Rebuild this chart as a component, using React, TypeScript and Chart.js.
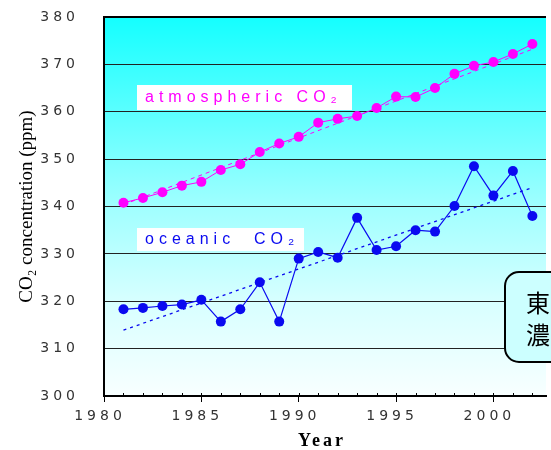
import React, { useEffect, useRef } from "react";
import { Chart, registerables } from "chart.js";

Chart.register(...registerables);

const years = [1981, 1982, 1983, 1984, 1985, 1986, 1987, 1988, 1989, 1990, 1991, 1992, 1993, 1994, 1995, 1996, 1997, 1998, 1999, 2000, 2001, 2002];
const atmosphericCO2 = [340.8, 341.8, 343.0, 344.4, 345.2, 347.7, 348.9, 351.5, 353.3, 354.7, 357.7, 358.5, 359.1, 360.8, 363.2, 363.1, 365.0, 368.0, 369.7, 370.5, 372.2, 374.3];
const oceanicCO2 = [318.3, 318.6, 319.0, 319.3, 320.3, 315.7, 318.3, 324.0, 315.7, 329.0, 330.4, 329.2, 337.6, 330.8, 331.6, 335.0, 334.7, 340.1, 348.5, 342.3, 347.5, 338.0];
const trendYears = [1981, 2002];
const atmosphericTrend = [340.4, 373.2];
const oceanicTrend = [313.9, 344.0];
const yTickValues = [300, 310, 320, 330, 340, 350, 360, 370, 380];
const xTickValues = [1980, 1985, 1990, 1995, 2000];

const MAGENTA = "#ff00ff";
const BLUE = "#0a0af0";
const TICK_SPACING = "4px";

const pts = (xs: number[], ys: number[]) => xs.map((x, i) => ({ x, y: ys[i] }));

const decoPlugin = {
  id: "deco",
  beforeLayout(chart: any) {
    chart.ctx.letterSpacing = TICK_SPACING;
  },
  beforeDraw(chart: any) {
    const { ctx, chartArea: a } = chart;
    ctx.letterSpacing = TICK_SPACING;
    ctx.save();
    const g = ctx.createLinearGradient(0, a.top, 0, a.bottom);
    g.addColorStop(0, "rgb(20,255,255)");
    g.addColorStop(0.25, "rgb(90,255,255)");
    g.addColorStop(0.5, "rgb(160,255,255)");
    g.addColorStop(0.75, "rgb(215,255,255)");
    g.addColorStop(1, "rgb(248,255,255)");
    ctx.fillStyle = g;
    ctx.fillRect(a.left, a.top, a.right - a.left, a.bottom - a.top);
    ctx.restore();
  },
  afterDraw(chart: any) {
    const { ctx, chartArea: a } = chart;
    const xs = chart.scales.x;
    ctx.save();
    ctx.letterSpacing = "0px";
    // top border
    ctx.strokeStyle = "#000";
    ctx.lineWidth = 2;
    ctx.beginPath();
    ctx.moveTo(a.left, a.top);
    ctx.lineTo(a.right, a.top);
    ctx.stroke();
    // minor ticks (inside)
    ctx.lineWidth = 1;
    for (let yr = 1981; yr <= 2002; yr++) {
      const px = Math.round(xs.getPixelForValue(yr)) + 0.5;
      ctx.beginPath();
      ctx.moveTo(px, a.bottom - 3);
      ctx.lineTo(px, a.bottom);
      ctx.stroke();
    }
    // y title
    ctx.save();
    ctx.translate(27, (a.top + a.bottom) / 2);
    ctx.rotate(-Math.PI / 2);
    ctx.fillStyle = "#000";
    ctx.font = '19px "Liberation Serif", "DejaVu Serif", serif';
    ctx.textAlign = "center";
    ctx.textBaseline = "middle";
    ctx.fillText("CO₂ concentration (ppm)", 0, 0);
    ctx.restore();
    // x title
    ctx.fillStyle = "#000";
    ctx.font = 'bold 18px "Liberation Serif", "DejaVu Serif", serif';
    ctx.letterSpacing = "3px";
    ctx.textAlign = "center";
    ctx.textBaseline = "middle";
    ctx.fillText("Year", 322, 441);
    // series labels
    ctx.textAlign = "left";
    ctx.textBaseline = "alphabetic";
    ctx.font = '16px "Liberation Sans", Arial, sans-serif';
    ctx.letterSpacing = "5px";
    ctx.fillStyle = "#fff";
    ctx.fillRect(137, 85, 215, 25);
    ctx.fillStyle = MAGENTA;
    ctx.fillText("atmospheric CO₂", 145, 102);
    ctx.fillStyle = "#fff";
    ctx.fillRect(137, 228, 167, 23);
    ctx.fillStyle = BLUE;
    ctx.fillText("oceanic  CO₂", 145, 244);
    // site box
    ctx.letterSpacing = "0px";
    ctx.beginPath();
    ctx.roundRect(505, 272, 70, 90, 14);
    ctx.fillStyle = "#ccffff";
    ctx.fill();
    ctx.lineWidth = 2;
    ctx.strokeStyle = "#000";
    ctx.stroke();
    ctx.fillStyle = "#000";
    ctx.font = '24px "Noto Sans CJK JP", sans-serif';
    ctx.textBaseline = "middle";
    ctx.fillText("東", 526, 303);
    ctx.fillText("濃", 526, 335);
    ctx.restore();
  },
};

export default function App() {
  const ref = useRef<HTMLCanvasElement | null>(null);
  useEffect(() => {
    if (!ref.current) return;
    const chart = new Chart(ref.current, {
      type: "line",
      data: {
        datasets: [
          {
            label: "atmospheric CO2",
            data: pts(years, atmosphericCO2),
            borderColor: MAGENTA,
            backgroundColor: MAGENTA,
            borderWidth: 1,
            pointRadius: 5,
            pointBorderWidth: 0,
            pointBackgroundColor: MAGENTA,
          },
          {
            label: "oceanic CO2",
            data: pts(years, oceanicCO2),
            borderColor: BLUE,
            backgroundColor: BLUE,
            borderWidth: 1.2,
            pointRadius: 5,
            pointBorderWidth: 0,
            pointBackgroundColor: BLUE,
          },
          {
            label: "atmospheric trend",
            data: pts(trendYears, atmosphericTrend),
            borderColor: MAGENTA,
            borderWidth: 1,
            borderDash: [4, 4],
            pointRadius: 0,
          },
          {
            label: "oceanic trend",
            data: pts(trendYears, oceanicTrend),
            borderColor: BLUE,
            borderWidth: 1.3,
            borderDash: [3, 4],
            pointRadius: 0,
          },
        ],
      },
      options: {
        responsive: false,
        animation: false,
        devicePixelRatio: 1,
        layout: { padding: { top: 17, left: 0, right: 0, bottom: 0 } },
        plugins: { legend: { display: false }, tooltip: { enabled: false } },
        scales: {
          x: {
            type: "linear",
            min: 1980,
            max: 2002.7,
            afterFit: (s: any) => {
              s.height = 54;
              s.paddingLeft = 0;
              s.paddingRight = 0;
            },
            afterBuildTicks: (s: any) => {
              s.ticks = xTickValues.map((v) => ({ value: v }));
            },
            ticks: {
              stepSize: 5,
              includeBounds: false,
              padding: 6,
              labelOffset: -4,
              color: "#333",
              font: { family: '"DejaVu Sans", sans-serif', size: 14 },
              callback: (v: any) => String(v),
            },
            grid: {
              display: true,
              drawOnChartArea: false,
              drawTicks: true,
              tickLength: 6,
              tickColor: "#000",
              tickWidth: 1,
            },
            border: { display: true, color: "#000", width: 2 },
          },
          y: {
            min: 300,
            max: 380,
            afterFit: (s: any) => {
              s.width = 104;
              s.paddingTop = 0;
              s.paddingBottom = 0;
            },
            afterBuildTicks: (s: any) => {
              s.ticks = yTickValues.map((v) => ({ value: v }));
            },
            ticks: {
              stepSize: 10,
              padding: 25,
              color: "#333",
              font: { family: '"DejaVu Sans", sans-serif', size: 14 },
              callback: (v: any) => String(v),
            },
            grid: {
              color: "#222",
              lineWidth: 1,
              drawTicks: false,
            },
            border: { display: true, color: "#000", width: 2 },
          },
        },
      },
      plugins: [decoPlugin],
    });
    return () => chart.destroy();
  }, []);
  return (
    <div style={{ position: "absolute", left: 0, top: 0, width: 551, height: 450, background: "#fff" }}>
      <canvas ref={ref} width={551} height={450} style={{ display: "block" }} />
    </div>
  );
}
